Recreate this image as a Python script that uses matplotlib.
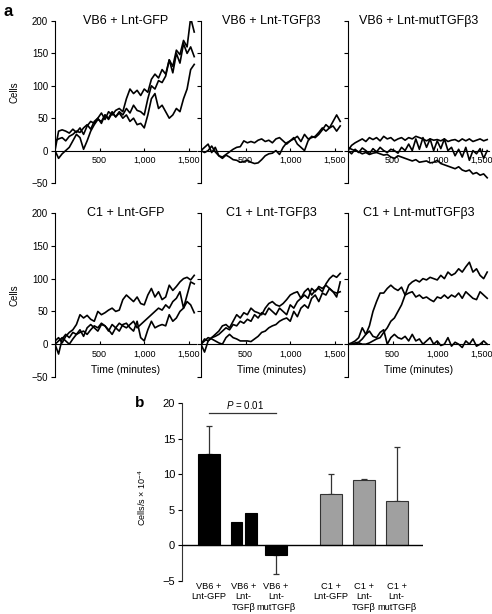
import numpy as np
import matplotlib
matplotlib.use('Agg')
import matplotlib.pyplot as plt
from matplotlib.ticker import FuncFormatter

plt.rcParams['font.family'] = ['Liberation Sans', 'DejaVu Sans']
plt.rcParams['mathtext.fontset'] = 'custom'
plt.rcParams['mathtext.rm'] = 'Liberation Sans'
plt.rcParams['mathtext.it'] = 'Liberation Sans:italic'

# time points (minutes)
time = np.arange(0, 1600, 40)

titles = ['VB6 + Lnt-GFP', 'VB6 + Lnt-TGFβ3', 'VB6 + Lnt-mutTGFβ3',
          'C1 + Lnt-GFP', 'C1 + Lnt-TGFβ3', 'C1 + Lnt-mutTGFβ3']

vb6_gfp_1 = [0, 30, 32, 30, 27, 33, 28, 35, 25, 38, 45, 42, 50, 58, 48, 60, 55, 62, 65, 60,
             80, 95, 88, 93, 85, 95, 90, 110, 118, 112, 125, 118, 140, 130, 155, 148, 170, 160, 205, 183]
vb6_gfp_2 = [15, 18, 20, 15, 22, 25, 30, 28, 35, 40, 33, 45, 50, 42, 55, 48, 58, 52, 60, 55,
             65, 58, 70, 62, 60, 55, 80, 100, 95, 108, 105, 115, 140, 120, 150, 135, 165, 150, 160, 145]
vb6_gfp_3 = [0, -12, -5, 0, 5, 15, 25, 20, 2, 15, 30, 40, 48, 45, 55, 50, 60, 52, 58, 50,
             55, 45, 50, 40, 42, 35, 55, 80, 88, 65, 70, 60, 50, 55, 65, 60, 80, 95, 125, 133]

vb6_tgf_1 = [0, 5, 10, -3, 5, -8, -10, -6, -2, 2, 5, 6, 15, 12, 14, 12, 16, 18, 14, 16,
             12, 18, 20, 15, 10, 15, 18, 22, 14, 25, 18, 20, 22, 28, 35, 30, 35, 38, 30, 38]
vb6_tgf_2 = [0, -3, 0, 7, -2, -8, -12, -7, -10, -14, -15, -18, -17, -15, -18, -20, -19, -14, -8, -5,
             -4, 0, -6, 5, 12, 15, 20, 10, 5, 0, 15, 22, 20, 25, 32, 40, 35, 45, 55, 45]

vb6_mut_1 = [0, 8, 12, 15, 18, 14, 20, 17, 20, 15, 22, 18, 20, 15, 18, 20, 16, 20, 18, 22,
             20, 18, 15, 18, 16, 17, 15, 18, 14, 16, 17, 14, 18, 15, 18, 14, 16, 18, 15, 17]
vb6_mut_2 = [0, -5, 2, -3, 4, 0, -5, 3, -2, 5, 0, -3, 2, 0, -4, 5, 0, 10, 0, 18,
             2, 20, 5, 18, 0, 15, 3, 18, 0, 5, -8, 2, -10, 5, -15, 0, -5, 3, -12, 0]
vb6_mut_3 = [5, 2, 0, -2, -5, -3, -6, -4, -3, -5, -7, -6, -10, -12, -8, -10, -12, -14, -16, -14,
             -18, -17, -16, -19, -18, -15, -20, -22, -24, -26, -28, -25, -30, -32, -30, -36, -34, -38, -36, -42]

c1_gfp_1 = [5, 10, 2, 12, 18, 22, 30, 45, 40, 44, 38, 35, 50, 45, 48, 52, 55, 50, 52, 68,
            75, 70, 65, 72, 62, 60, 75, 85, 72, 80, 68, 72, 90, 82, 88, 95, 100, 102, 98, 105]
c1_gfp_2 = [0, 5, 10, 5, 0, 8, 15, 18, 20, 15, 22, 28, 25, 32, 28, 20, 30, 25, 32, 28,
            25, 30, 35, 25, 30, 35, 40, 45, 50, 55, 52, 60, 55, 65, 70, 80, 55, 75, 95, 92]
c1_gfp_3 = [0, -15, 8, 15, 10, 18, 15, 22, 12, 25, 30, 25, 20, 30, 28, 22, 15, 25, 20, 30,
            32, 25, 20, 35, 10, 5, 22, 35, 25, 28, 30, 28, 45, 35, 40, 50, 55, 65, 60, 48]

c1_tgf_1 = [0, 8, 5, 10, 15, 20, 28, 30, 25, 35, 45, 40, 48, 45, 55, 50, 48, 45, 55, 62,
            65, 60, 58, 62, 68, 75, 78, 80, 70, 80, 85, 75, 82, 85, 80, 92, 100, 105, 102, 108]
c1_tgf_2 = [0, -12, 5, 10, 12, 15, 20, 25, 22, 30, 28, 35, 32, 38, 35, 45, 40, 48, 45, 55,
            50, 45, 55, 50, 45, 60, 55, 65, 70, 75, 70, 85, 80, 88, 85, 90, 85, 80, 78, 80]
c1_tgf_3 = [0, 5, 10, 8, 5, 2, 0, 10, 15, 10, 8, 5, 5, 5, 4, 8, 12, 18, 20, 25,
            28, 30, 35, 38, 40, 35, 50, 42, 55, 60, 55, 70, 75, 65, 78, 75, 85, 80, 72, 95]

c1_mut_1 = [0, 0, 2, 3, 8, 15, 28, 50, 65, 78, 78, 85, 90, 85, 82, 87, 75, 78, 80, 72,
            75, 70, 72, 68, 65, 72, 70, 75, 70, 75, 72, 78, 70, 80, 75, 70, 68, 80, 75, 70]
c1_mut_2 = [0, 0, 0, 2, 0, 0, 2, 5, 8, 10, 18, 25, 35, 40, 50, 60, 75, 90, 95, 98,
            95, 100, 98, 102, 100, 98, 105, 100, 110, 105, 108, 115, 110, 118, 125, 110, 115, 105, 100, 110]
c1_mut_3 = [0, 2, 5, 10, 25, 15, 20, 12, 10, 18, 22, 0, 10, 15, 10, 8, 12, 5, 15, 5,
            8, 0, 5, 10, 0, 5, -2, 0, 10, -3, 3, 0, -5, 5, 0, 8, -3, 0, 5, 0]

panels = [
    [vb6_gfp_1, vb6_gfp_2, vb6_gfp_3],
    [vb6_tgf_1, vb6_tgf_2],
    [vb6_mut_1, vb6_mut_2, vb6_mut_3],
    [c1_gfp_1, c1_gfp_2, c1_gfp_3],
    [c1_tgf_1, c1_tgf_2, c1_tgf_3],
    [c1_mut_1, c1_mut_2, c1_mut_3],
]

# panel b
bar_labels = ['VB6 +\nLnt-GFP', 'VB6 +\nLnt-\nTGFβ', 'VB6 +\nLnt-\nmutTGFβ',
              'C1 +\nLnt-GFP', 'C1 +\nLnt-\nTGFβ', 'C1 +\nLnt-\nmutTGFβ']
bar_values = [12.9, 3.3, 4.5, -1.35, 7.2, 9.2, 6.2]
bar_errors = [3.9, 0, 0, 2.65, 2.8, 0.1, 7.6]
bar_colors = ['black', 'black', 'black', 'black', '#a0a0a0', '#a0a0a0', '#a0a0a0']

fig = plt.figure(figsize=(4.92, 6.14), dpi=100)

lefts = [0.1118, 0.4085, 0.7073]
bottoms = [0.702, 0.386]
heights = [0.2638, 0.267]
comma = FuncFormatter(lambda v, p: '{:,.0f}'.format(v))

for i, series in enumerate(panels):
    row, col = divmod(i, 3)
    ax = fig.add_axes([lefts[col], bottoms[row], 0.2866, heights[row]])
    for s in series:
        ax.plot(time[:len(s)], s, color='black', lw=1.2)
    ax.set_xlim(0, 1580)
    ax.set_ylim(-50, 200)
    ax.spines['top'].set_visible(False)
    ax.spines['right'].set_visible(False)
    ax.spines['bottom'].set_position(('data', 0))
    ax.set_xticks([500, 1000, 1500])
    ax.xaxis.set_major_formatter(comma)
    ax.set_yticks([-50, 0, 50, 100, 150, 200])
    ax.tick_params(axis='x', direction='in', length=2, labelsize=6.5, pad=4)
    ax.tick_params(axis='y', direction='out', length=3, labelsize=7, pad=2)
    if col == 0:
        ax.set_ylabel('Cells', fontsize=7)
        ax.yaxis.set_label_coords(-0.25, 0.56 if row == 0 else 0.5)
    else:
        ax.set_yticklabels([])
    ax.text(0.5, 1.0, titles[i], transform=ax.transAxes, ha='center', va='center', fontsize=9)
    if row == 1:
        ax.text(790, -40, 'Time (minutes)', ha='center', va='center', fontsize=7.5)

fig.text(0.008, 0.982, 'a', fontsize=12, fontweight='bold', va='center')

# panel b
axb = fig.add_axes([0.370, 0.0537, 0.49, 0.29])
pos = [0, 0.82, 1.25, 2, 3.63, 4.63, 5.6]
widths = [0.66, 0.33, 0.36, 0.66, 0.66, 0.66, 0.66]
for p, v, e, c, w in zip(pos, bar_values, bar_errors, bar_colors, widths):
    axb.bar(p, v, width=w, color=c, edgecolor='#333333' if c != 'black' else 'black', lw=0.8, zorder=2)
    if e > 0:
        lo, hi = (0, e) if v > 0 else (e, 0)
        axb.errorbar(p, v, yerr=[[lo], [hi]], fmt='none', ecolor='#333333', elinewidth=0.9,
                     capsize=2.5, capthick=0.9, zorder=1)
axb.axhline(0, color='black', lw=1.0, zorder=3)
axb.set_xlim(-0.81, 6.39)
axb.set_ylim(-5, 20)
axb.set_yticks([-5, 0, 5, 10, 15, 20])
axb.set_xticks([0, 1.03, 2, 3.63, 4.63, 5.6])
axb.set_xticklabels(bar_labels, fontsize=6.7, linespacing=1.15)
axb.tick_params(axis='x', length=0, pad=1)
axb.tick_params(axis='y', direction='out', length=3, labelsize=8, pad=2)
for s in ['top', 'right', 'bottom']:
    axb.spines[s].set_visible(False)
axb.spines['left'].set_color('#333333')
axb.set_ylabel('Cells/s × 10$^{-4}$', fontsize=6.5)
axb.yaxis.set_label_coords(-0.14, 0.47)

axb.plot([0, 2], [18.6, 18.6], color='#333333', lw=0.9)
axb.text(1.08, 19.7, '$P$ = 0.01', ha='center', va='center', fontsize=7)
fig.text(0.275, 0.343, 'b', fontsize=11, fontweight='bold', va='center')

fig.savefig('out.png', dpi=100)
